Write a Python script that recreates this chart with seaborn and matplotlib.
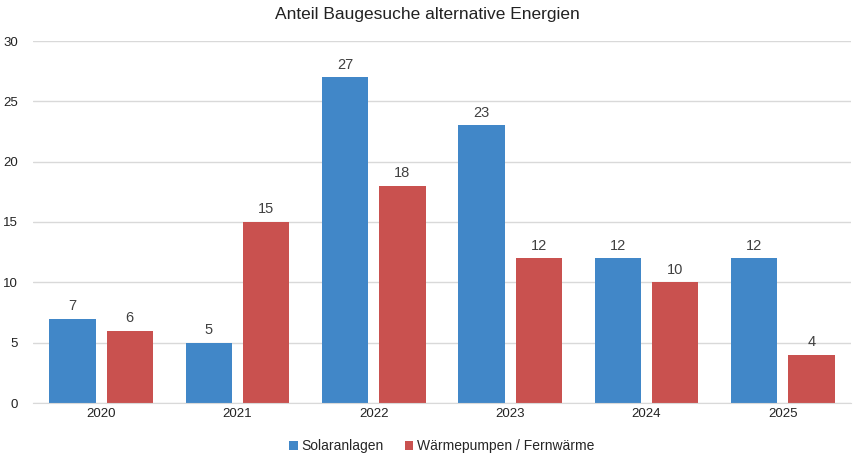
import pandas as pd
import matplotlib.pyplot as plt
import seaborn as sns

# Daten aus dem Diagramm
jahre = ['2020', '2021', '2022', '2023', '2024', '2025']
solar = [7, 5, 27, 23, 12, 12]
waerme = [6, 15, 18, 12, 10, 4]
serien = ['Solaranlagen', 'Wärmepumpen / Fernwärme']
farben = ['#4187c8', '#c9514f']

df = pd.DataFrame({
    'Jahr': jahre * 2,
    'Wert': solar + waerme,
    'Serie': [serien[0]] * len(jahre) + [serien[1]] * len(jahre),
})

sns.set_style('white')
plt.rcParams['font.family'] = ['Liberation Sans', 'DejaVu Sans']

fig = plt.figure(figsize=(8.54, 4.55), dpi=100)
ax = fig.add_axes([33 / 854, 1 - 403 / 455, 818 / 854, 362 / 455])

sns.barplot(data=df, x='Jahr', y='Wert', hue='Serie', palette=farben,
            saturation=1, width=0.84, gap=0.19, ax=ax, edgecolor=None, linewidth=0)

for cont in ax.containers:
    ax.bar_label(cont, fmt='%d', padding=4, fontsize=10.5, color='#404040')

ax.set_ylim(0, 30)
ax.set_yticks(range(0, 31, 5))
ax.yaxis.grid(True, color='#d9d9d9', linewidth=1)
ax.set_axisbelow(True)
for s in ['left', 'right', 'top']:
    ax.spines[s].set_visible(False)
ax.spines['bottom'].set_color('#d9d9d9')
ax.tick_params(axis='both', length=0, labelsize=9.5, colors='#222222')
ax.tick_params(axis='y', pad=11)
ax.set_xlabel('')
ax.set_ylabel('')

fig.suptitle('Anteil Baugesuche alternative Energien', y=0.985, fontsize=12.5, color='#222222')

ax.legend(loc='upper center', bbox_to_anchor=(0.5, -0.065), ncol=2, frameon=False,
          fontsize=10, handlelength=0.6, handleheight=0.6, handletextpad=0.3,
          columnspacing=1.5)

fig.savefig('out.png', dpi=100)
